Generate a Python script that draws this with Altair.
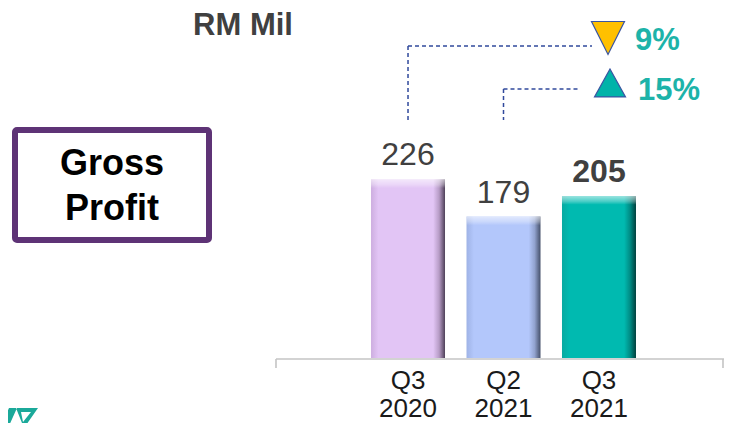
import altair as alt
import pandas as pd

# ---- data ----
categories = ["Q3 2020", "Q2 2021", "Q3 2021"]
quarters = ["Q3", "Q2", "Q3"]
years = ["2020", "2021", "2021"]
values = [226, 179, 205]
label_weights = ["normal", "normal", "bold"]
bar_base = ["#E2C5F5", "#B3C7FB", "#00BAB0"]
bar_left = ["#CDAEE0", "#9FB3E6", "#08AAA1"]
bar_right = ["#4E4058", "#45506A", "#00403D"]
bar_mid_dark = ["#B79CC6", "#92A3CF", "#008C85"]
change_labels = ["9%", "15%"]

FONT = "Liberation Sans"

df = pd.DataFrame({
    "cat": categories,
    "q": quarters,
    "yr": years,
    "value": values,
})
df["top_hl"] = df["value"] - 11
df["label"] = df["q"] + "\n" + df["yr"]

xscale = alt.Scale(domain=categories, range=[268, 723], paddingInner=0.225, paddingOuter=0.995)
yscale = alt.Scale(domain=[-82.3, 443.0], nice=False, zero=False)

X = alt.X("cat:N", scale=xscale, axis=None, sort=categories)

layers = []

# bars, one layer each for its own gradient
for i, c in enumerate(categories):
    grad = alt.Gradient(
        gradient="linear",
        x1=0, x2=1, y1=0, y2=0,
        stops=[
            alt.GradientStop(color=bar_left[i], offset=0),
            alt.GradientStop(color=bar_base[i], offset=0.1),
            alt.GradientStop(color=bar_base[i], offset=0.84),
            alt.GradientStop(color=bar_mid_dark[i], offset=0.92),
            alt.GradientStop(color=bar_right[i], offset=1),
        ],
    )
    layers.append(
        alt.Chart(df).transform_filter(alt.datum.cat == c)
        .mark_bar(color=grad)
        .encode(x=X, y=alt.Y("value:Q", scale=yscale, axis=None), y2=alt.datum(0))
    )

# top bevel highlight
hl = alt.Gradient(
    gradient="linear", x1=0, x2=0, y1=0, y2=1,
    stops=[
        alt.GradientStop(color="rgba(255,255,255,0.6)", offset=0),
        alt.GradientStop(color="rgba(255,255,255,0.3)", offset=0.6),
        alt.GradientStop(color="rgba(255,255,255,0)", offset=1),
    ],
)
layers.append(
    alt.Chart(df).mark_bar(color=hl)
    .encode(x=X, y=alt.Y("value:Q", scale=yscale, axis=None), y2="top_hl:Q")
)

# value labels
for i, c in enumerate(categories):
    layers.append(
        alt.Chart(df).transform_filter(alt.datum.cat == c)
        .mark_text(font=FONT, fontSize=32, fontWeight=label_weights[i], color="#404040",
                   align="center", baseline="alphabetic", dy=-14)
        .encode(x=X, y=alt.Y("value:Q", scale=yscale, axis=None), text="value:Q")
    )

# category labels (two lines)
layers.append(
    alt.Chart(df).mark_text(font=FONT, fontSize=26, color="#1a1a1a", align="center",
                            baseline="alphabetic", dy=31, lineBreak="\n", lineHeight=28)
    .encode(x=X, y=alt.Y(datum=0, scale=yscale, axis=None), text="label:N")
)

one = pd.DataFrame({"a": [0]})
axis_color = "#C4C4C4"
# axis line with end ticks
layers.append(alt.Chart(one).mark_rule(color=axis_color, strokeWidth=1.6)
              .encode(x=alt.value(268), x2=alt.value(716), y=alt.value(351)))
layers.append(alt.Chart(one).mark_rule(color=axis_color, strokeWidth=1.6)
              .encode(x=alt.value(268), y=alt.value(351), y2=alt.value(360)))
layers.append(alt.Chart(one).mark_rule(color=axis_color, strokeWidth=1.6)
              .encode(x=alt.value(715), y=alt.value(351), y2=alt.value(360)))

# RM Mil title
layers.append(alt.Chart(one).mark_text(text="RM Mil", font=FONT, fontSize=31, fontWeight="bold",
                                       color="#404040", align="center", baseline="alphabetic")
              .encode(x=alt.value(235), y=alt.value(27)))

# Gross Profit box
layers.append(alt.Chart(one).mark_rect(fill="white", stroke="#5E3376", strokeWidth=6, cornerRadius=2)
              .encode(x=alt.value(7), x2=alt.value(201), y=alt.value(122), y2=alt.value(232)))
layers.append(alt.Chart(one).mark_text(text="Gross", font=FONT, fontSize=36, fontWeight="bold",
                                       color="#000000", align="center", baseline="alphabetic")
              .encode(x=alt.value(104), y=alt.value(167)))
layers.append(alt.Chart(one).mark_text(text="Profit", font=FONT, fontSize=36, fontWeight="bold",
                                       color="#000000", align="center", baseline="alphabetic")
              .encode(x=alt.value(104), y=alt.value(212)))

# dashed connectors
dash_color = "#30499C"
c1 = pd.DataFrame({"cat": [categories[0]]})
c2 = pd.DataFrame({"cat": [categories[1]]})
layers.append(alt.Chart(c1).mark_rule(color=dash_color, strokeWidth=1.5, strokeDash=[4, 3])
              .encode(x=X, y=alt.value(38), y2=alt.value(114)))
layers.append(alt.Chart(c1).mark_rule(color=dash_color, strokeWidth=1.5, strokeDash=[4, 3])
              .encode(x=X, x2=alt.value(584), y=alt.value(38)))
layers.append(alt.Chart(c2).mark_rule(color=dash_color, strokeWidth=1.5, strokeDash=[4, 3])
              .encode(x=X, y=alt.value(81), y2=alt.value(112)))
layers.append(alt.Chart(c2).mark_rule(color=dash_color, strokeWidth=1.5, strokeDash=[4, 3])
              .encode(x=X, x2=alt.value(572), y=alt.value(81)))

# triangles
layers.append(alt.Chart(one).mark_point(shape="M-1,-1L1,-1L0,1Z", size=1089, filled=True,
                                        fill="#FFC000", stroke="#3A55A2", strokeWidth=1.2, opacity=1)
              .encode(x=alt.value(600), y=alt.value(30)))
layers.append(alt.Chart(one).mark_point(shape="M0,-0.9L1,0.9L-1,0.9Z", size=961, filled=True,
                                        fill="#00B3A9", stroke="#3A55A2", strokeWidth=1.2, opacity=1)
              .encode(x=alt.value(602), y=alt.value(75)))

# change labels
layers.append(alt.Chart(one).mark_text(text=change_labels[0], font=FONT, fontSize=31, fontWeight="bold",
                                       color="#1DB3A9", align="left", baseline="alphabetic")
              .encode(x=alt.value(627), y=alt.value(42)))
layers.append(alt.Chart(one).mark_text(text=change_labels[1], font=FONT, fontSize=31, fontWeight="bold",
                                       color="#1DB3A9", align="left", baseline="alphabetic")
              .encode(x=alt.value(630), y=alt.value(92)))

# logo fragment (bottom-left)
logo_path = ("M-23,10L-15,10L-6,-10L-14,-10Z "
             "M-7,-10L15,-10L1,10Z M-2,-6L0,4L8,-6Z")
layers.append(alt.Chart(one).mark_point(shape=logo_path, size=4, filled=True, fill="#1BA99A",
                                        strokeWidth=0, opacity=1)
              .encode(x=alt.value(15), y=alt.value(410)))

chart = alt.layer(*layers).properties(
    width=716, height=415,
    autosize=alt.AutoSizeParams(type="none"),
    padding=0,
).configure_view(stroke=None)

chart.save("out.html", embed_options={"renderer": "svg", "actions": False})
